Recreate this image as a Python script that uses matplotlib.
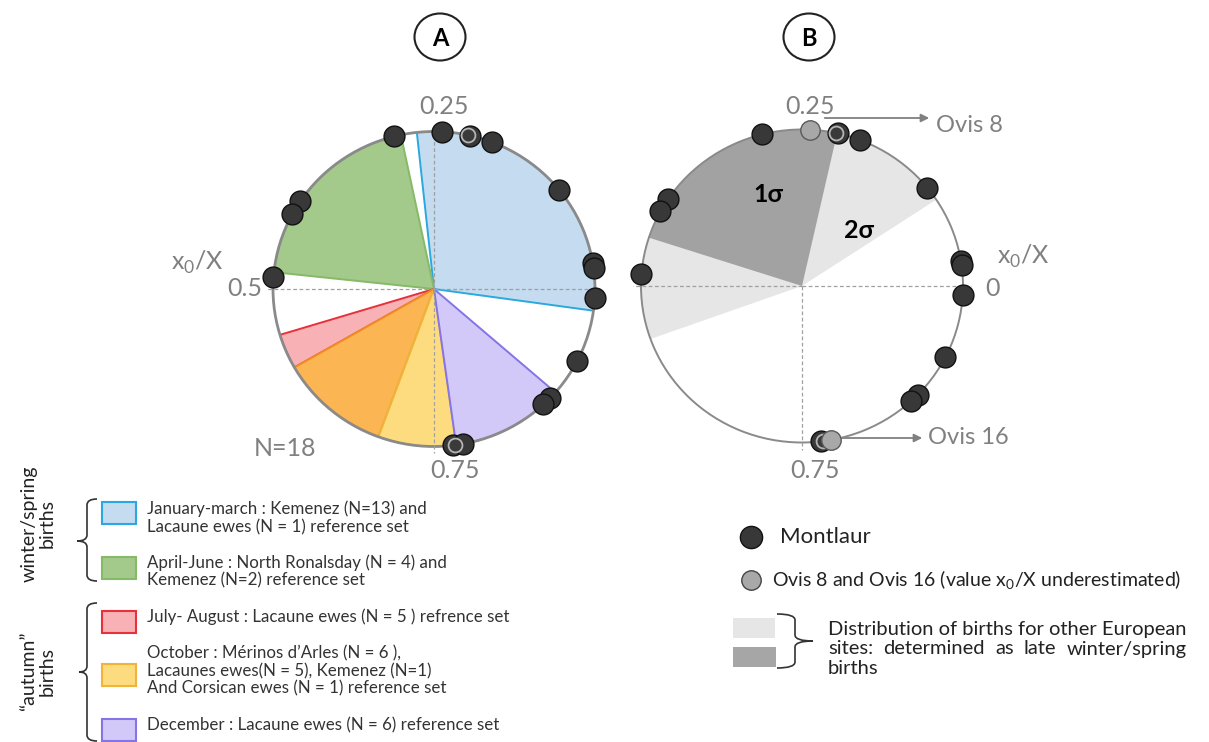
import numpy as np
import matplotlib.pyplot as plt
from matplotlib.patches import Rectangle, Ellipse, PathPatch
from matplotlib.path import Path

plt.rcParams['font.family'] = ['Lato', 'DejaVu Sans']
plt.rcParams['mathtext.fontset'] = 'custom'
plt.rcParams['mathtext.rm'] = 'Lato'

# posiciones x0/X (0..1)
montlaur = [0.290, 0.214, 0.191, 0.108, 0.026, 0.021, 0.991, 0.925,
            0.878, 0.869, 0.769, 0.406, 0.421, 0.488]
montlaur_dobles = [0.216, 0.771]      # puntos superpuestos (borde gris)
ovis = [0.242, 0.779]                 # Ovis 8, Ovis 16
ovis_nombres = ['Ovis 8', 'Ovis 16']

# sectores del panel A (inicio, fin) en x0/X
sect_ini = [-0.022, 0.283, 0.547, 0.583, 0.694, 0.772]
sect_fin = [0.267, 0.483, 0.583, 0.694, 0.772, 0.886]
sect_relleno = ['#c5dbf0', '#a3c98b', '#f8b1b4', '#fbb552', '#fddc80', '#d3c9f8']
sect_borde = ['#2aa9e0', '#86b968', '#e8313a', '#f08c20', '#f0b43a', '#8474e6']

# panel B: distribucion otros sitios europeos
sigma2 = (0.093, 0.555)
sigma1 = (0.215, 0.450)

leyenda_a = [
    ['January-march : Kemenez (N=13) and', 'Lacaune ewes (N = 1) reference set'],
    ['April-June : North Ronalsday (N = 4) and', 'Kemenez (N=2) reference set'],
    ['July- August : Lacaune ewes (N = 5 ) refrence set'],
    ["October : Mérinos d’Arles (N = 6 ),", 'Lacaunes ewes(N = 5), Kemenez (N=1)',
     'And Corsican ewes (N = 1) reference set'],
    ['December : Lacaune ewes (N = 6) reference set'],
]
leyenda_colores = [0, 1, 2, 4, 5]   # el sector naranja no tiene caja propia

W, H = 1209, 742
GRIS = '#808080'
fig = plt.figure(figsize=(W / 100, H / 100), dpi=100)
bg = fig.add_axes([0, 0, 1, 1])
bg.set_xlim(0, W)
bg.set_ylim(H, 0)
bg.axis('off')


def eje_polar(cx, cy, w, h):
    ax = fig.add_axes([(cx - w / 2) / W, (H - cy - h / 2) / H, w / W, h / H],
                      projection='polar')
    ax.set_aspect('auto')
    ax.set_ylim(0, 1)
    ax.set_xticks([])
    ax.set_yticks([])
    ax.grid(False)
    ax.set_facecolor('none')
    ax.spines['polar'].set_edgecolor('#8a8a8a')
    return ax


def th(v):
    return 2 * np.pi * np.asarray(v)


def llave(x_fin, x_med, x_punta, y0, y1, ym, d=6):
    verts = [(x_fin, y0), (x_med, y0), (x_med, y0 + d), (x_med, ym - d),
             (x_med, ym), (x_punta, ym), (x_med, ym), (x_med, ym + d),
             (x_med, y1 - d), (x_med, y1), (x_fin, y1)]
    codes = [Path.MOVETO, Path.CURVE3, Path.CURVE3, Path.LINETO,
             Path.CURVE3, Path.CURVE3, Path.CURVE3, Path.CURVE3,
             Path.LINETO, Path.CURVE3, Path.CURVE3]
    bg.add_patch(PathPatch(Path(verts, codes), fc='none', ec='#333333', lw=1.2))


def puntos(ax, valores, **kw):
    ax.plot(th(valores), np.ones(len(valores)), 'o', clip_on=False, zorder=5, **kw)


# ---------------- panel A ----------------
axA = eje_polar(434, 289, 322, 315)
axA.spines['polar'].set_linewidth(2)
for ini, fin, fc, ec in zip(sect_ini, sect_fin, sect_relleno, sect_borde):
    axA.bar(th((ini + fin) / 2), 1, width=th(fin - ini), bottom=0,
            color=fc, edgecolor=ec, linewidth=1.4)
for t in [0, 0.25, 0.5, 0.75]:
    axA.plot(th([t, t]), [0, 1.04], ls=(0, (3, 2)), color='#a0a0a0', lw=0.9,
             clip_on=False, zorder=2.6)
negro = dict(ms=15, mfc='#383838', mec='#111111', mew=1)
puntos(axA, montlaur + ovis, **negro)
puntos(axA, montlaur_dobles, ms=10, mfc='#3a3a3a', mec='#b5b5b5', mew=1.3)

# ---------------- panel B ----------------
axB = eje_polar(802, 286, 322, 313)
axB.spines['polar'].set_linewidth(1.4)
axB.bar(th(sum(sigma2) / 2), 1, width=th(sigma2[1] - sigma2[0]), bottom=0,
        color='#e6e6e6', linewidth=0)
axB.bar(th(sum(sigma1) / 2), 1, width=th(sigma1[1] - sigma1[0]), bottom=0,
        color='#a2a2a2', linewidth=0)
for t in [0, 0.5, 0.75]:
    axB.plot(th([t, t]), [0, 1.05], ls=(0, (3, 2)), color='#a0a0a0', lw=0.9,
             clip_on=False, zorder=2.6)
puntos(axB, montlaur, **negro)
puntos(axB, montlaur_dobles, ms=10, mfc='#3a3a3a', mec='#b5b5b5', mew=1.3)
puntos(axB, ovis, ms=14, mfc='#a8a8a8', mec='#5a5a5a', mew=1)
axB.text(th(0.305), 0.62, '1σ', fontsize=18, fontweight='bold', ha='center', va='center')
axB.text(th(0.126), 0.50, '2σ', fontsize=18, fontweight='bold', ha='center', va='center')

# etiquetas de los ejes
et = dict(color=GRIS, fontsize=18, ha='center', va='center')
bg.text(444, 107, '0.25', **et)
bg.text(245, 288, '0.5', **et)
bg.text(197, 262, r'x$_\mathrm{0}$/X', **et)
bg.text(455, 470, '0.75', **et)
bg.text(285, 449, 'N=18', **et)
bg.text(810, 107, '0.25', **et)
bg.text(993, 288, '0', **et)
bg.text(1023, 256, r'x$_\mathrm{0}$/X', **et)
bg.text(815, 470, '0.75', **et)

# flechas Ovis
for (x0, x1, y, xt), nombre in zip([(822, 932, 118, 936), (836, 925, 438, 928)], ovis_nombres):
    bg.annotate('', xy=(x1, y), xytext=(x0, y),
                arrowprops=dict(arrowstyle='-|>', color=GRIS, lw=1.3, mutation_scale=12))
    bg.text(xt, y + (8 if nombre == 'Ovis 8' else 0), nombre, color=GRIS, fontsize=17,
            ha='left', va='center')

# letras A y B
for x, letra in [(440, 'A'), (809, 'B')]:
    bg.add_patch(Ellipse((x, 37), 51, 47, fc='white', ec='#222222', lw=1.5))
    bg.text(x, 38, letra, fontsize=17, fontweight='bold', ha='center', va='center')

# ---------------- leyenda izquierda ----------------
cajas_y = [502, 557, 611, 664, 719]
lineas_y = [[509, 527], [563, 580], [617], [653, 671, 688], [725]]
for cy, lys, lineas, i in zip(cajas_y, lineas_y, leyenda_a, leyenda_colores):
    bg.add_patch(Rectangle((102, cy), 34, 22, fc=sect_relleno[i], ec=sect_borde[i],
                           lw=1.5, clip_on=False))
    for ly, txt in zip(lys, lineas):
        bg.text(147, ly, txt, fontsize=12.2, color='#333333', va='center', ha='left')

llave(97, 87, 77, 499, 581, 541)
llave(97, 87, 79, 603, 741, 672)
bg.text(38, 524, 'winter/spring\nbirths', rotation=90, fontsize=14, color='#222222',
        ha='center', va='center', multialignment='center', linespacing=1.1)
bg.text(38, 671, '“autumn”\nbirths', rotation=90, fontsize=14, color='#222222',
        ha='center', va='center', multialignment='center', linespacing=1.1)

# ---------------- leyenda derecha ----------------
bg.plot(751, 537, 'o', ms=16, mfc='#383838', mec='#111111', mew=1)
bg.text(780, 537, 'Montlaur', fontsize=16, color='#222222', va='center')
bg.plot(751, 580, 'o', ms=14, mfc='#a8a8a8', mec='#444444', mew=1)
bg.text(772, 580, r'Ovis 8 and Ovis 16 (value x$_\mathrm{0}$/X underestimated)',
        fontsize=14, color='#222222', va='center')
bg.add_patch(Rectangle((733, 618), 42, 20, fc='#e6e6e6', ec='none'))
bg.add_patch(Rectangle((733, 647), 43, 20, fc='#a6a6a6', ec='none'))
llave(777, 795, 813, 614, 668, 641)

rend = fig.canvas.get_renderer()
kw = dict(fontsize=14.5, color='#222222', va='center')
l1 = bg.text(828, 630, 'Distribution of births for other European', **kw)
ancho = l1.get_window_extent(rend).width
palabras = 'sites: determined as late winter/spring'.split()
ts = [bg.text(828, 649, p, **kw) for p in palabras]
anchos = [t.get_window_extent(rend).width for t in ts]
hueco = (ancho - sum(anchos)) / (len(palabras) - 1)
x = 828
for t, a in zip(ts, anchos):
    t.set_x(x)
    x += a + hueco
bg.text(828, 668, 'births', **kw)

fig.savefig('out.png', dpi=100)
